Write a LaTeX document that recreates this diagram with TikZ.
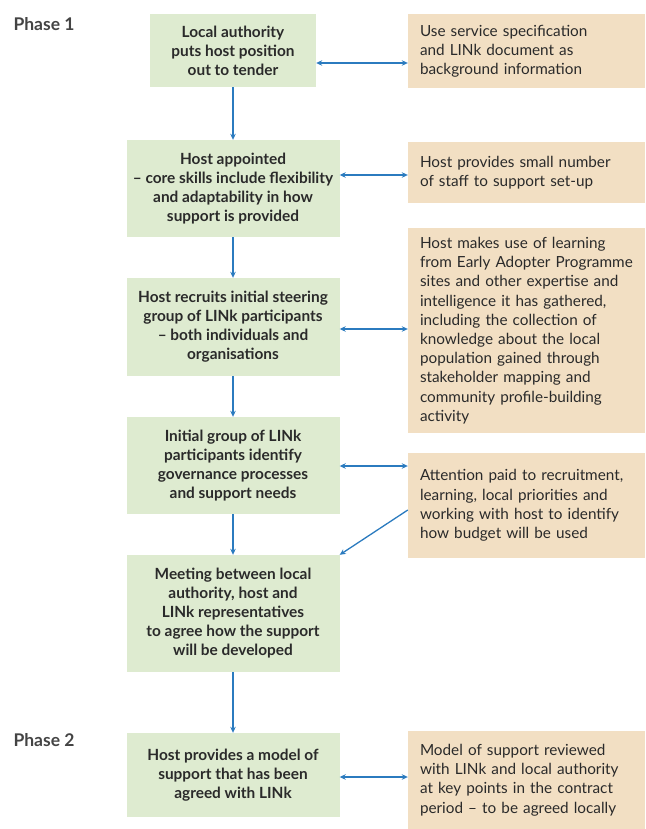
\documentclass[tikz,border=0pt]{standalone}
\usepackage{fontspec}
\setmainfont{Lato}
\usetikzlibrary{arrows.meta}
\definecolor{gfill}{HTML}{DEEBD0}
\definecolor{ofill}{HTML}{F2DFC3}
\definecolor{ablue}{HTML}{2B7BBF}
\definecolor{txt}{HTML}{2A2A2A}
\definecolor{phase}{HTML}{444444}
\tikzset{
  gbox/.style={fill=gfill, draw=none, align=center, inner sep=0pt, text=txt,
    font={\fontsize{15.4}{19}\selectfont\bfseries}, minimum width=213pt},
  obox/.style={fill=ofill, draw=none, align=left, inner xsep=12pt, inner ysep=0pt, text=txt,
    text width=213pt, font={\fontsize{15.3}{19.2}\selectfont}},
  link/.style={draw=ablue, line width=1.3pt, -{Stealth[length=6pt,width=5.5pt]}},
  dlink/.style={draw=ablue, line width=1.3pt, {Stealth[length=6pt,width=5.5pt]}-{Stealth[length=6pt,width=5.5pt]}},
  phaselbl/.style={text=phase, font={\fontsize{17.5}{20}\selectfont\bfseries}, inner sep=0pt}
}
\begin{document}
\begin{tikzpicture}[x=1pt,y=-1pt]
\useasboundingbox (0,0) rectangle (645,829);
\node[phaselbl] (p1) at (44,24) {Phase 1};
\node[phaselbl] (p2) at (44,740) {Phase 2};

\node[gbox, minimum width=166pt, minimum height=73pt] (g1) at (233,50.5) {Local authority\\puts host position\\out to tender};
\node[gbox, minimum height=97pt] (g2) at (233,188.5) {Host appointed\\– core skills include flexibility\\and adaptability in how\\support is provided};
\node[gbox, minimum height=98pt] (g3) at (233,327) {Host recruits initial steering\\group of LINk participants\\– both individuals and\\organisations};
\node[gbox, minimum height=97pt] (g4) at (233,465.5) {Initial group of LINk\\participants identify\\governance processes\\and support needs};
\node[gbox, minimum height=117pt] (g5) at (233,613.5) {Meeting between local\\authority, host and\\LINk representatives\\to agree how the support\\will be developed};
\node[gbox, minimum height=84pt] (g6) at (233,775) {Host provides a model of\\support that has been\\agreed with LINk};

\node[obox, minimum height=74pt] (o1) at (526.5,51) {Use service specification\\and LINk document as\\background information};
\node[obox, minimum height=61pt] (o2) at (526.5,172.5) {Host provides small number\\of staff to support set-up};
\node[obox, minimum height=205pt] (o3) at (526.5,330.5) {Host makes use of learning\\from Early Adopter Programme\\sites and other expertise and\\intelligence it has gathered,\\including the collection of\\knowledge about the local\\population gained through\\stakeholder mapping and\\community profile-building\\activity};
\node[obox, minimum height=105pt] (o4) at (526.5,505.5) {Attention paid to recruitment,\\learning, local priorities and\\working with host to identify\\how budget will be used};
\node[obox, minimum height=98pt] (o5) at (526.5,780) {Model of support reviewed\\with LINk and local authority\\at key points in the contract\\period – to be agreed locally};

\draw[link] (g1) -- (g2);
\draw[link] (g2) -- (g3);
\draw[link] (g3) -- (g4);
\draw[link] (g4.south) -- (g5.north);
\draw[link] (g5) -- (g6);

\draw[dlink] (g1.east |- 0,63) -- (o1.west |- 0,63);
\draw[dlink] (g2.east |- 0,175) -- (o2.west |- 0,175);
\draw[dlink] (g3.east |- 0,329) -- (o3.west |- 0,329);
\draw[dlink] (g4.east |- 0,466) -- (o4.west |- 0,466);
\draw[dlink] (g6.east |- 0,777) -- (o5.west |- 0,777);
\draw[link] (o4.west |- 0,510) -- (g5.north east);
\end{tikzpicture}
\end{document}
